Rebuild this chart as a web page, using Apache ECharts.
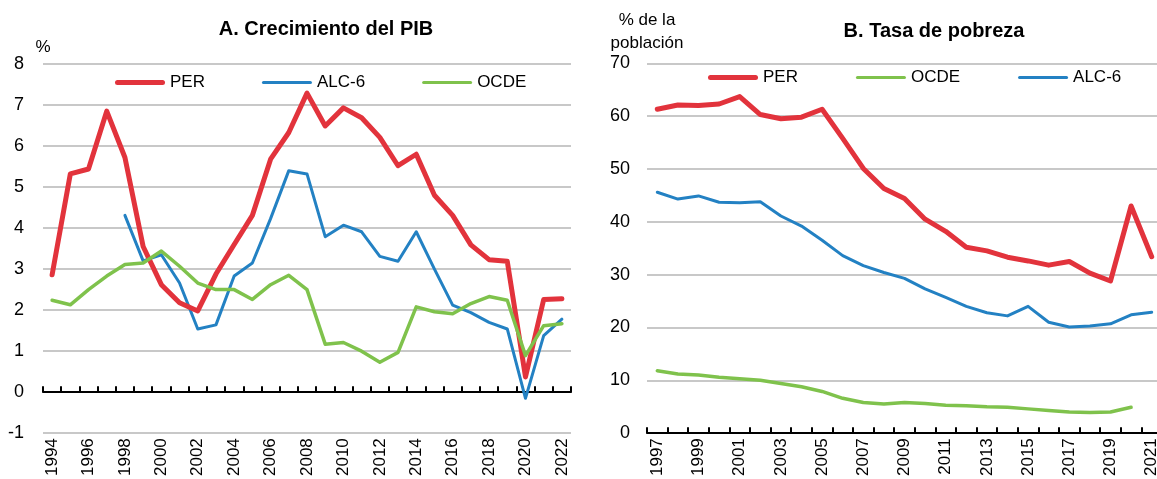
<!DOCTYPE html>
<html>
<head>
<meta charset="utf-8">
<script src="https://cdn.jsdelivr.net/npm/echarts@6/dist/echarts.min.js"></script>
<style>
  html, body { margin: 0; padding: 0; overflow: hidden; background: #fff; }
  #chart { width: 1170px; height: 479px; }
</style>
</head>
<body>
<div id="chart"></div>
<script>
// Panel A: crecimiento del PIB (%)
const yearsA = ["1994","1995","1996","1997","1998","1999","2000","2001","2002","2003","2004","2005","2006","2007","2008","2009","2010","2011","2012","2013","2014","2015","2016","2017","2018","2019","2020","2021","2022"];
const perA = [2.86, 5.32, 5.44, 6.85, 5.72, 3.55, 2.62, 2.18, 1.98, 2.88, 3.6, 4.31, 5.68, 6.33, 7.29, 6.49, 6.93, 6.69, 6.21, 5.52, 5.8, 4.8, 4.31, 3.59, 3.23, 3.19, 0.37, 2.26, 2.28];
const alcA = [null, null, null, null, 4.31, 3.2, 3.35, 2.66, 1.54, 1.64, 2.83, 3.15, 4.23, 5.4, 5.32, 3.79, 4.07, 3.91, 3.31, 3.19, 3.91, 3.0, 2.12, 1.94, 1.7, 1.54, -0.15, 1.38, 1.78];
const ocdeA = [2.24, 2.13, 2.5, 2.83, 3.11, 3.15, 3.44, 3.07, 2.66, 2.5, 2.5, 2.26, 2.62, 2.85, 2.5, 1.17, 1.21, 1.0, 0.73, 0.97, 2.08, 1.96, 1.91, 2.16, 2.33, 2.24, 0.89, 1.62, 1.67];

// Panel B: tasa de pobreza (% de la población)
const yearsB = ["1997","1998","1999","2000","2001","2002","2003","2004","2005","2006","2007","2008","2009","2010","2011","2012","2013","2014","2015","2016","2017","2018","2019","2020","2021"];
const perB = [61.3, 62.1, 62.0, 62.3, 63.7, 60.3, 59.5, 59.8, 61.3, 55.8, 50.1, 46.3, 44.4, 40.5, 38.2, 35.2, 34.5, 33.3, 32.6, 31.8, 32.5, 30.3, 28.8, 43.0, 33.4];
const ocdeB = [11.8, 11.2, 11.0, 10.6, 10.3, 10.0, 9.4, 8.8, 7.9, 6.6, 5.8, 5.5, 5.8, 5.6, 5.3, 5.2, 5.0, 4.9, 4.6, 4.3, 4.0, 3.9, 4.0, 4.9, null];
const alcB = [45.6, 44.3, 44.9, 43.7, 43.6, 43.8, 41.1, 39.2, 36.5, 33.6, 31.7, 30.4, 29.3, 27.3, 25.7, 24.0, 22.8, 22.2, 24.0, 21.0, 20.1, 20.3, 20.7, 22.4, 22.9];

const RED = "#e2333c";
const BLUE = "#2381c3";
const GREEN = "#7fc24c";
const FONT = "'Liberation Sans Narrow', 'Arial Narrow', 'Liberation Sans', Arial, sans-serif";

// legend icons: flat bars, thick for PER
const ICON_THICK = "path://M2.5,0 H47.5 A2.5,2.5 0 0 1 47.5,5 H2.5 A2.5,2.5 0 0 1 2.5,0 Z";
const ICON_THIN = "path://M1.5,0 H48.5 A1.5,1.5 0 0 1 48.5,3 H1.5 A1.5,1.5 0 0 1 1.5,0 Z";

const chart = echarts.init(document.getElementById("chart"));

function lineSeries(name, data, color, width, xi, yi) {
  return {
    name: name,
    type: "line",
    data: data,
    xAxisIndex: xi,
    yAxisIndex: yi,
    symbol: "none",
    color: color,
    lineStyle: { color: color, width: width, cap: "round", join: "round" },
    animation: false
  };
}

function labelAxis(years, grid) {
  return {
    type: "category",
    gridIndex: grid,
    data: years,
    position: "bottom",
    boundaryGap: true,
    axisLine: { show: false, onZero: false },
    axisTick: { show: false },
    axisLabel: {
      interval: 1,
      rotate: 90,
      margin: 5,
      color: "#000",
      fontSize: 17,
      fontFamily: FONT
    }
  };
}

function tickAxis(years, grid, onZero) {
  return {
    type: "category",
    gridIndex: grid,
    data: years,
    position: "bottom",
    boundaryGap: true,
    axisLine: { show: true, onZero: onZero, onZeroAxisIndex: grid, lineStyle: { color: "#000", width: 2 } },
    axisTick: { show: true, inside: true, interval: 0, length: 6, lineStyle: { color: "#000", width: 2 } },
    axisLabel: { show: false }
  };
}

function legendItem(name, icon, color) {
  return { name: name, icon: icon, itemStyle: { color: color } };
}

chart.setOption({
  backgroundColor: "#fff",
  animation: false,
  title: [
    {
      text: "A. Crecimiento del PIB",
      left: 321,
      top: 14,
      textAlign: "center",
      textStyle: { fontSize: 20, fontWeight: "bold", color: "#000", fontFamily: FONT }
    },
    {
      text: "B. Tasa de pobreza",
      left: 929,
      top: 16,
      textAlign: "center",
      textStyle: { fontSize: 20, fontWeight: "bold", color: "#000", fontFamily: FONT }
    }
  ],
  legend: [
    {
      data: [legendItem("PER", ICON_THICK, RED), legendItem("ALC-6", ICON_THIN, BLUE), legendItem("OCDE", ICON_THIN, GREEN)],
      left: 115,
      top: 74,
      padding: 0,
      itemWidth: 50,
      itemHeight: 16,
      itemGap: 57,
      textStyle: { fontSize: 17, color: "#000", fontFamily: FONT }
    },
    {
      data: [legendItem("PER", ICON_THICK, RED), legendItem("OCDE", ICON_THIN, GREEN), legendItem("ALC-6", ICON_THIN, BLUE)],
      left: 708,
      top: 69,
      padding: 0,
      itemWidth: 50,
      itemHeight: 16,
      itemGap: 58,
      textStyle: { fontSize: 17, color: "#000", fontFamily: FONT }
    }
  ],
  grid: [
    { left: 43, top: 64, width: 528, height: 372.7 },
    { left: 647, top: 63.3, width: 515, height: 371.7 }
  ],
  xAxis: [
    labelAxis(yearsA, 0),
    tickAxis(yearsA, 0, true),
    tickAxis(yearsB, 1, false),
    labelAxis(yearsB, 1)
  ],
  yAxis: [
    {
      type: "value",
      gridIndex: 0,
      min: -1,
      max: 8,
      interval: 1,
      name: "%",
      nameLocation: "end",
      nameGap: 8,
      nameTextStyle: { fontSize: 17, color: "#000", fontFamily: FONT, align: "center" },
      axisLine: { show: false },
      axisTick: { show: false },
      axisLabel: { margin: 19, fontSize: 18, color: "#000", fontFamily: FONT },
      splitLine: { lineStyle: { color: "#c8c8c8", width: 2 } }
    },
    {
      type: "value",
      gridIndex: 1,
      min: 0,
      max: 70,
      interval: 10,
      name: "% de la\npoblación",
      nameLocation: "end",
      nameGap: -2,
      nameTextStyle: { fontSize: 17, lineHeight: 23, color: "#000", fontFamily: FONT, align: "center" },
      axisLine: { show: false },
      axisTick: { show: false },
      axisLabel: { margin: 17, fontSize: 18, color: "#000", fontFamily: FONT },
      splitLine: { lineStyle: { color: "#c8c8c8", width: 2 } }
    }
  ],
  series: [
    lineSeries("ALC-6", alcA, BLUE, 3, 0, 0),
    lineSeries("PER", perA, RED, 5, 0, 0),
    lineSeries("OCDE", ocdeA, GREEN, 3.5, 0, 0),
    lineSeries("OCDE", ocdeB, GREEN, 3.5, 2, 1),
    lineSeries("ALC-6", alcB, BLUE, 3, 2, 1),
    lineSeries("PER", perB, RED, 5, 2, 1)
  ]
});
</script>
</body>
</html>
